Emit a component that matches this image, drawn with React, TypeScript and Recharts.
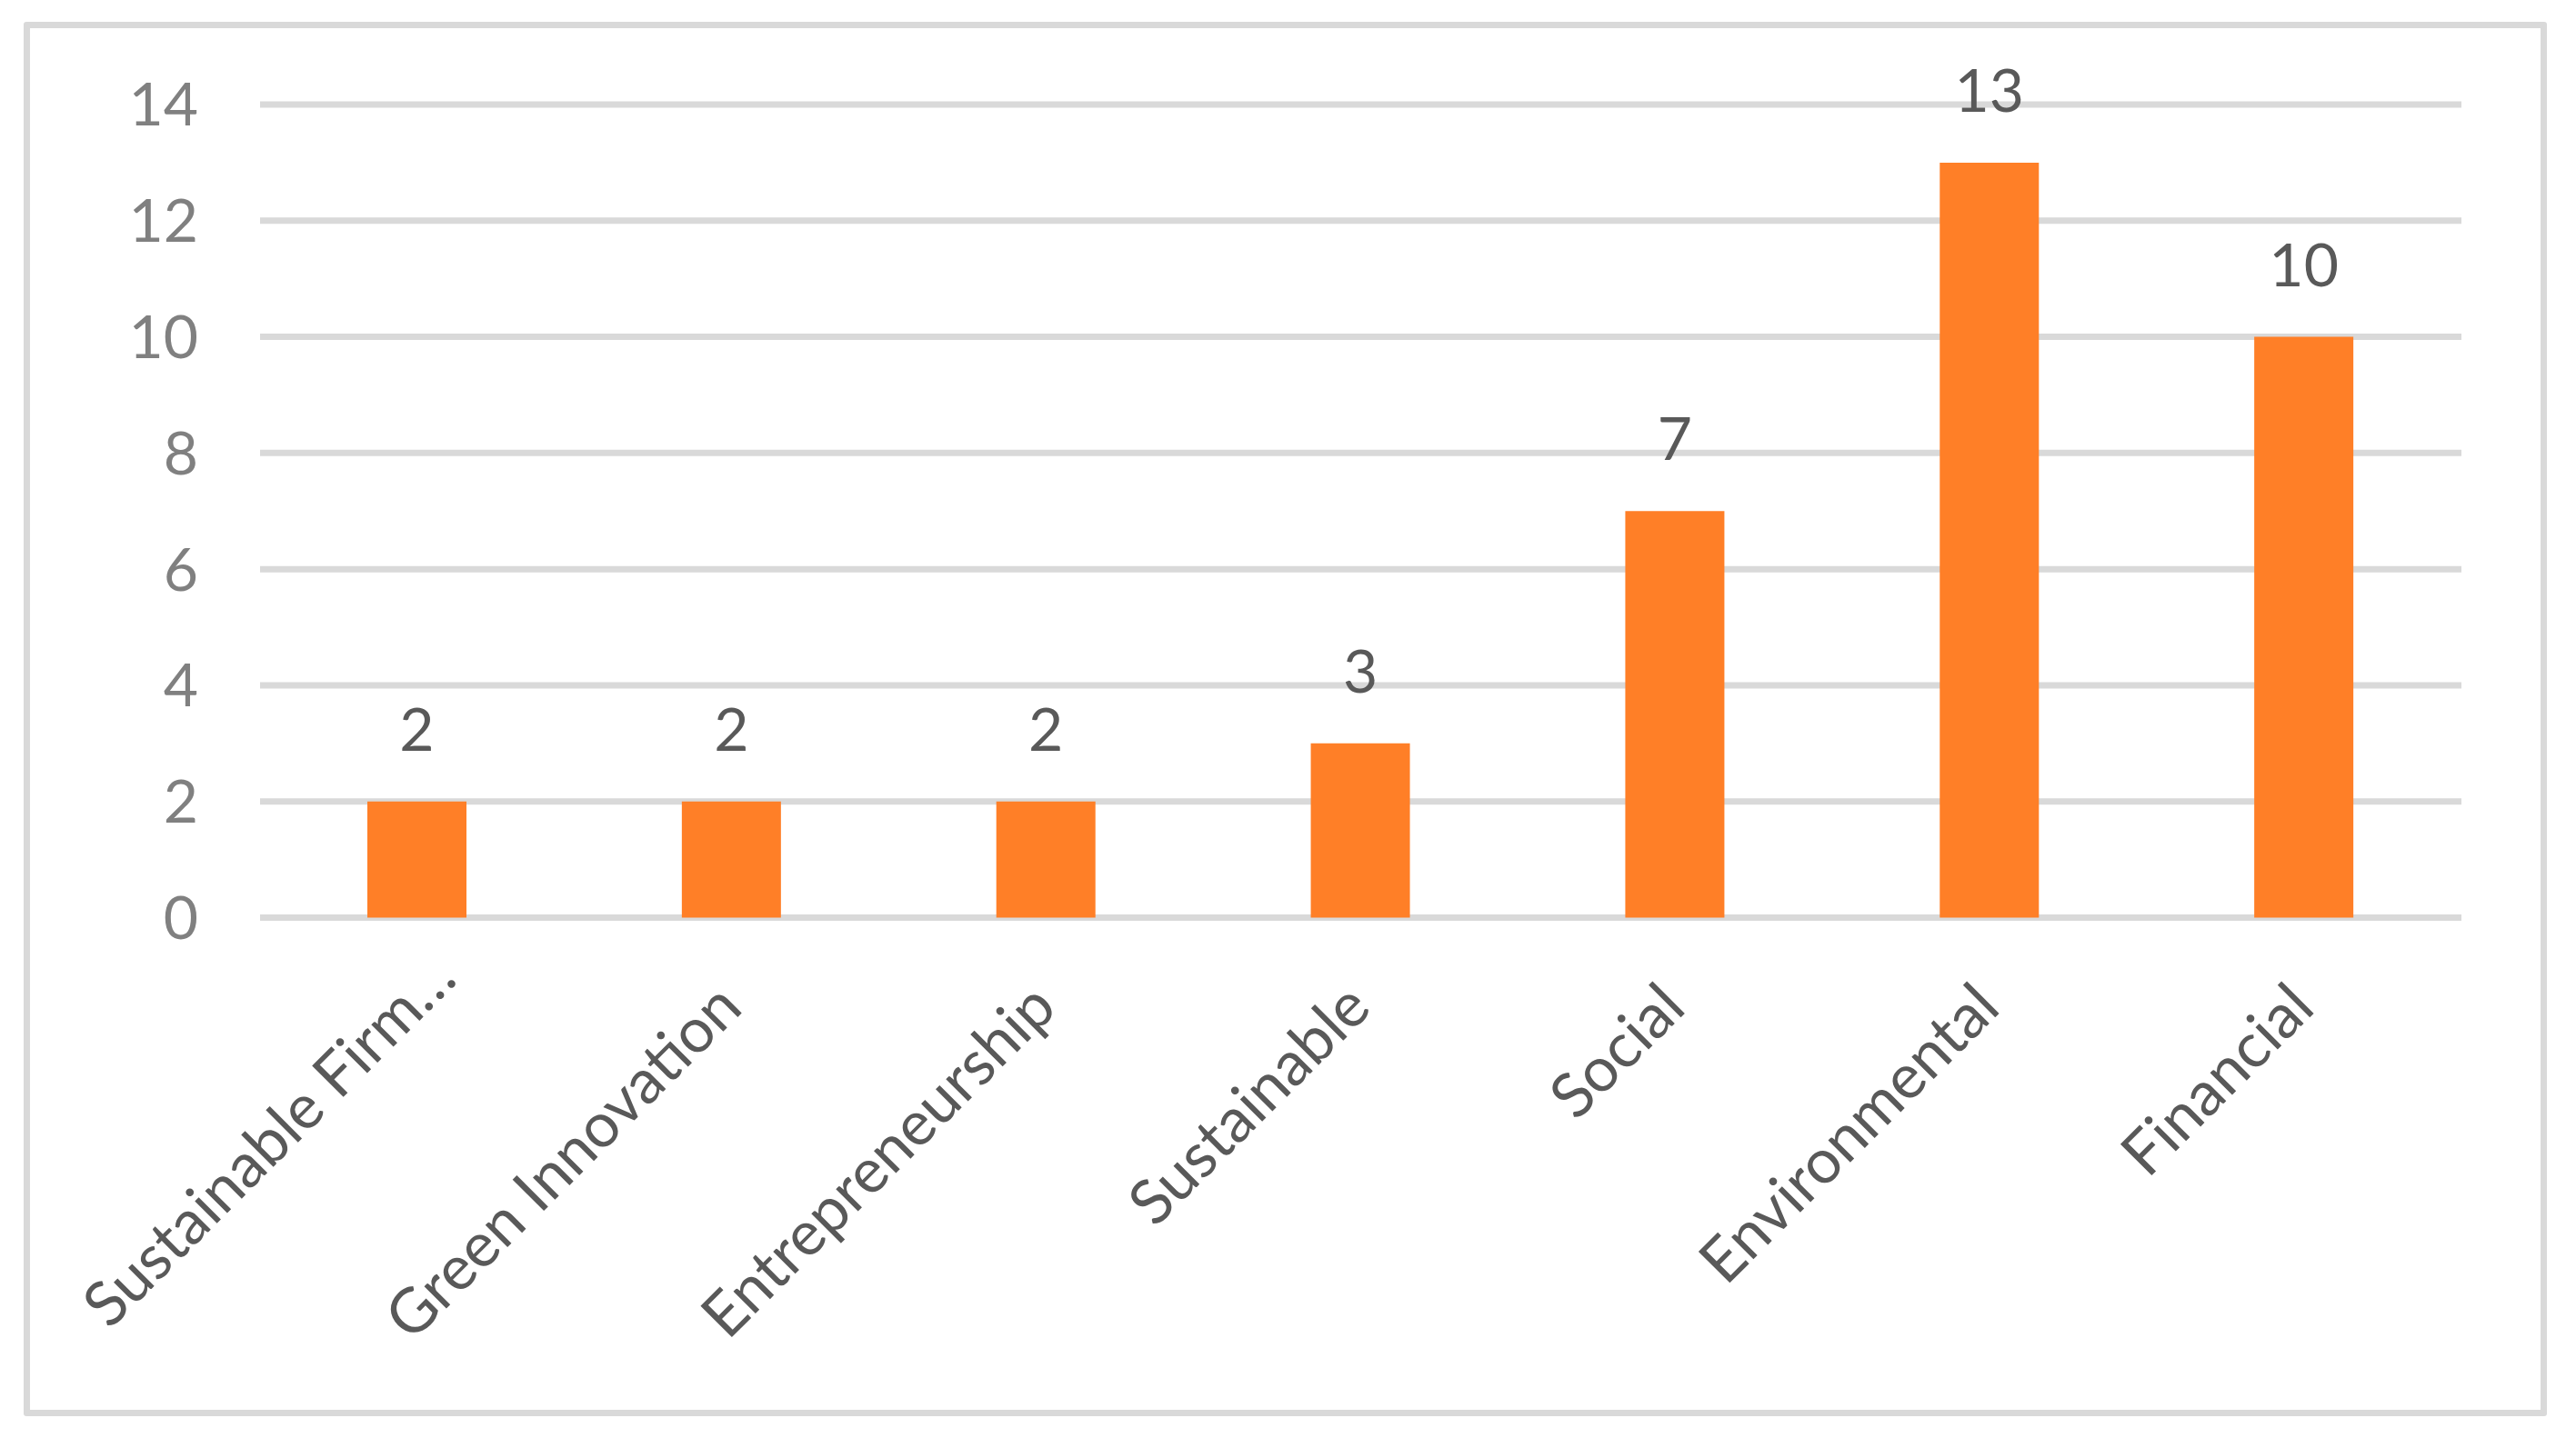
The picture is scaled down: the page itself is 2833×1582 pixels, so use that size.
import { BarChart, Bar, XAxis, YAxis, CartesianGrid, LabelList } from 'recharts';

const categories = ['Sustainable Firm…', 'Green Innovation', 'Entrepreneurship', 'Sustainable', 'Social', 'Environmental', 'Financial'];
const counts = [2, 2, 2, 3, 7, 13, 10];
const yTicks = [0, 2, 4, 6, 8, 10, 12, 14];

const data = categories.map((name, i) => ({ name, count: counts[i] }));

const FONT = 'Lato, "Open Sans", sans-serif';

// Excel keeps the full label box for a truncated label, so its end sits further up the diagonal
const CategoryTick = (props: any) => {
  const { x, y, payload } = props;
  const shift = String(payload.value).endsWith('…') ? 32 : 0;
  return (
    <g transform={`translate(${x + 14 + shift},${y + 102 - shift})`}>
      <text textAnchor="end" transform="rotate(-45)" fill="#595959" fontSize={68} fontFamily={FONT}>
        {payload.value}
      </text>
    </g>
  );
};

export default function App() {
  return (
    <div style={{ position: 'absolute', left: 0, top: 0, width: 2833, height: 1582, background: '#fff' }}>
      <div
        style={{
          position: 'absolute', left: 26, top: 24, width: 2775, height: 1534,
          border: '7px solid #D9D9D9', boxSizing: 'border-box', borderRadius: 3,
        }}
      />
      <div style={{ position: 'absolute', left: 0, top: 0 }}>
        <BarChart width={2833} height={1582} data={data} margin={{ top: 115, right: 126, bottom: 72.5, left: 86 }}>
          <CartesianGrid vertical={false} stroke="#D9D9D9" strokeWidth={7} />
          <XAxis
            dataKey="name"
            interval={0}
            height={500}
            axisLine={false}
            tickLine={false}
            tickSize={0}
            tickMargin={0}
            tick={<CategoryTick />}
          />
          <YAxis
            width={200}
            domain={[0, 14]}
            ticks={yTicks}
            axisLine={false}
            tickLine={false}
            tickSize={6}
            tickMargin={62}
            tick={{ fill: '#808080', fontSize: 66, fontFamily: FONT }}
          />
          <Bar dataKey="count" fill="#FF7F27" barSize={109} isAnimationActive={false}>
            <LabelList dataKey="count" position="top" offset={56} fill="#595959" fontSize={66} fontFamily={FONT} />
          </Bar>
        </BarChart>
      </div>
    </div>
  );
}
